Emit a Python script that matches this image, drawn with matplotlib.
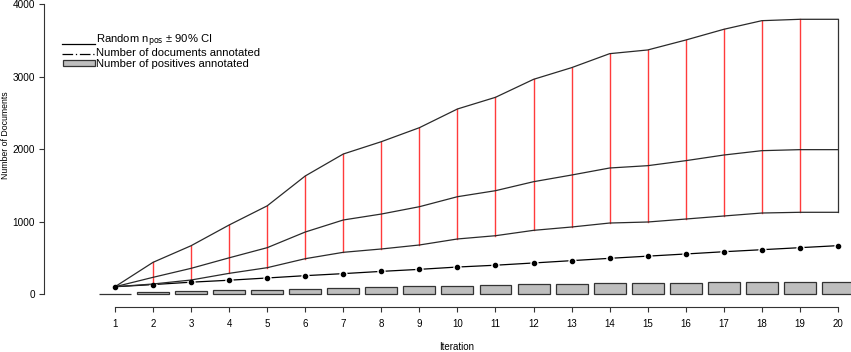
import matplotlib
matplotlib.use("Agg")
import matplotlib.pyplot as plt
from matplotlib.lines import Line2D
from matplotlib.patches import Rectangle

plt.rcParams['font.family'] = ['Liberation Sans', 'DejaVu Sans']

iterations = list(range(1, 21))
upper = [100, 437, 666, 952, 1216, 1628, 1931, 2101, 2294, 2552,
         2713, 2961, 3122, 3315, 3366, 3503, 3651, 3770, 3789, 3789]
middle = [100, 230, 354, 499, 639, 855, 1021, 1103, 1204, 1342,
          1425, 1549, 1641, 1738, 1770, 1839, 1917, 1977, 1991, 1991]
lower = [100, 138, 193, 285, 363, 487, 575, 621, 676, 759,
         804, 878, 924, 979, 993, 1034, 1076, 1117, 1127, 1127]
docs = [100, 130, 163, 190, 221, 253, 281, 312, 340, 372,
        397, 428, 460, 492, 522, 552, 583, 611, 639, 667]
positives = [4, 25, 45, 52, 62, 73, 88, 98, 105, 115,
             120, 135, 142, 150, 152, 156, 162, 165, 166, 168]
xtick_labels = [str(i) for i in iterations]
yticks = [0, 1000, 2000, 3000, 4000]
legend_labels = [r'Random n$_{\mathrm{pos}}$ ± 90% CI',
                 'Number of documents annotated',
                 'Number of positives annotated']

W, H = 851, 352
fig = plt.figure(figsize=(W / 100, H / 100), dpi=100)
left_px, right_px, top_px, bot_px = 44, 851, 4, 307
ax = fig.add_axes([left_px / W, 1 - bot_px / H, (right_px - left_px) / W, (bot_px - top_px) / H])

# bars
ax.bar(iterations, positives, width=0.84, color='#bebebe', edgecolor='#333333', linewidth=0.9, zorder=1)

# documents annotated line with gaps around points (R type="b")
ax.plot(iterations, docs, color='black', lw=0.9, zorder=2)
ax.plot(iterations, docs, 'o', color='white', ms=6, mec='none', zorder=3)

# CI segments
for i in range(1, len(iterations) - 1):
    ax.plot([iterations[i], iterations[i]], [lower[i], upper[i]], color='#ff3b3b', lw=1.0, zorder=4)
ax.plot([iterations[-1], iterations[-1]], [lower[-1], upper[-1]], color='#333333', lw=0.9, zorder=4)

for s in (upper, middle, lower):
    ax.plot(iterations, s, color='#2a2a2a', lw=0.9, zorder=5)

ax.plot(iterations, docs, 'o', color='black', ms=3, zorder=6)

ax.set_xlim(1 - (115 - left_px) / 38.05, 1 + (right_px - 115) / 38.05)
ax.set_ylim(-179.3, 4000)

for side in ('top', 'right'):
    ax.spines[side].set_visible(False)
ax.spines['left'].set_bounds(0, 4000)
ax.spines['bottom'].set_bounds(1, 20)
for side in ('left', 'bottom'):
    ax.spines[side].set_color('#333333')
    ax.spines[side].set_linewidth(0.8)

ax.set_xticks(iterations)
ax.set_xticklabels(xtick_labels, fontsize=7)
ax.set_yticks(yticks)
ax.set_yticklabels([str(v) for v in yticks], fontsize=7.2)
ax.tick_params(axis='x', length=3.6, width=0.8, color='#333333', pad=5)
ax.tick_params(axis='y', length=3.6, width=0.8, color='#333333', pad=2.8)

fig.text(457 / W, 1 - 347 / H, 'Iteration', ha='center', va='center', fontsize=7)
fig.text(6 / W, 1 - 135 / H, 'Number of Documents', ha='center', va='center', rotation=90, fontsize=6.3)

# legend (drawn manually in figure pixel coordinates)
def fx(px):
    return px / W

def fy(py):
    return 1 - py / H

tf = fig.transFigure
fig.add_artist(Line2D([fx(62), fx(95)], [fy(44.3), fy(44.3)], color='black', lw=0.9, transform=tf))
fig.add_artist(Line2D([fx(62), fx(95)], [fy(53.5), fy(53.5)], color='black', lw=0.9,
                      linestyle=(0, (8.5, 2.2, 1.0, 2.2)), transform=tf))
fig.add_artist(Rectangle((fx(62.5), fy(66)), fx(95) - fx(62.5), fy(60) - fy(66),
                         facecolor='#bebebe', edgecolor='#333333', lw=0.9, transform=tf))
for label, y in zip(legend_labels, (41.2, 53.0, 64.0)):
    fig.text(fx(96.5), fy(y), label, ha='left', va='center', fontsize=8.1)

fig.savefig('out.png', dpi=100)
